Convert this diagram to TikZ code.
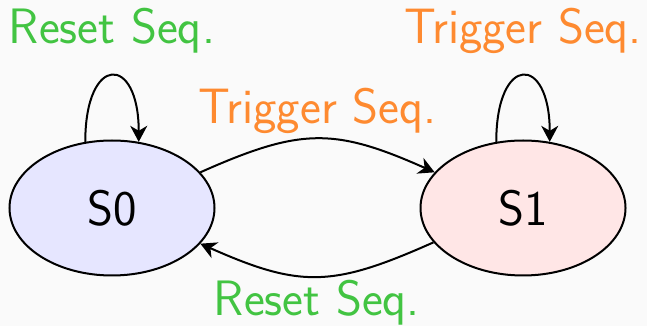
\documentclass[tikz,border=0pt]{standalone}
\usepackage{fontspec}
\usetikzlibrary{arrows.meta,shapes.geometric}
\definecolor{bgcol}{RGB}{250,250,250}
\definecolor{sZeroFill}{RGB}{230,230,255}
\definecolor{sOneFill}{RGB}{255,230,230}
\definecolor{resetgreen}{RGB}{66,196,66}
\definecolor{triggerorange}{RGB}{254,138,48}
\tikzset{
  statenode/.style={ellipse, draw=black, line width=1pt, minimum width=102.5pt,
    minimum height=67.5pt, inner sep=0pt, font=\sffamily\fontsize{24.88}{30}\selectfont},
  edge/.style={line width=1pt, -{Stealth[length=8pt,width=8.5pt,inset=2.5pt]}},
  lbl/.style={font=\sffamily\fontsize{24.88}{30}\selectfont, anchor=base, inner sep=0pt},
  resetlbl/.style={lbl, text=resetgreen},
  triggerlbl/.style={lbl, text=triggerorange}
}
\begin{document}
\begin{tikzpicture}[x=0.5pt, y=0.5pt]
  % canvas
  \fill[bgcol] (0,0) rectangle (647,326);
  \useasboundingbox (0,0) rectangle (647,326);

  % states
  \node[statenode, fill=sZeroFill] (s0) at (112,118) {S0};
  \node[statenode, fill=sOneFill]  (s1) at (523,118) {S1};

  % self loops
  \draw[edge] (s0.112) .. controls +(90:88) and +(90:88) .. (s0.68)
    node[midway, resetlbl, yshift=16pt] (lreset0) {Reset Seq.};
  \draw[edge] (s1.112) .. controls +(90:88) and +(90:88) .. (s1.68)
    node[midway, triggerlbl, yshift=16pt] (ltrig1) {Trigger Seq.};

  % transitions between states
  \draw[edge] (s0.22) .. controls +(24:110) and +(156:110) .. (s1.158)
    node[midway, triggerlbl, yshift=7.5pt] (ltrig01) {Trigger Seq.};
  \draw[edge] (s1.201) .. controls +(204:110) and +(336:110) .. (s0.338)
    node[midway, resetlbl, yshift=-19.5pt] (lreset10) {Reset Seq.};
\end{tikzpicture}
\end{document}
